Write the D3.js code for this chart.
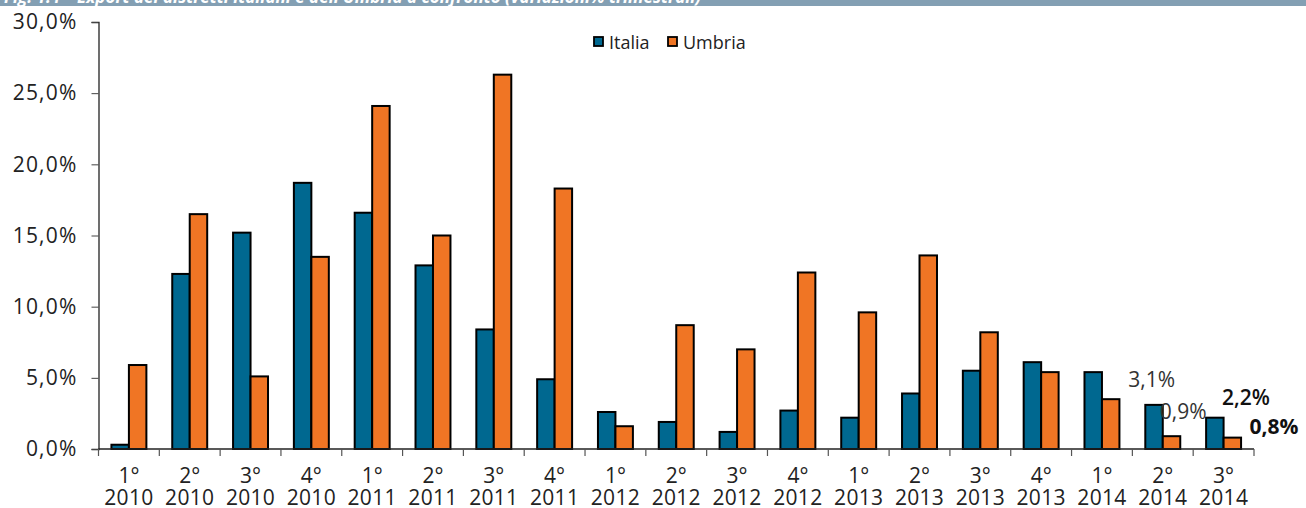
<!DOCTYPE html>
<html><head><meta charset="utf-8">
<script src="https://cdn.jsdelivr.net/npm/d3@7"></script>
<style>
html,body{margin:0;padding:0;background:#fff;}
svg{display:block;font-family:"Open Sans",sans-serif;}
</style></head>
<body>
<svg id="chart" width="1306" height="508"></svg>
<script>
const title = "Fig. 1.4 – Export dei distretti italiani e dell'Umbria a confronto (variazioni% trimestrali)";
const quarters = ["1°","2°","3°","4°","1°","2°","3°","4°","1°","2°","3°","4°","1°","2°","3°","4°","1°","2°","3°"];
const years = ["2010","2010","2010","2010","2011","2011","2011","2011","2012","2012","2012","2012","2013","2013","2013","2013","2014","2014","2014"];
const seriesNames = ["Italia","Umbria"];
const italia = [0.3,12.3,15.2,18.7,16.6,12.9,8.4,4.9,2.6,1.9,1.2,2.7,2.2,3.9,5.5,6.1,5.4,3.1,2.2];
const umbria = [5.9,16.5,5.1,13.5,24.1,15.0,26.3,18.3,1.6,8.7,7.0,12.4,9.6,13.6,8.2,5.4,3.5,0.9,0.8];
const yTicks = [0,5,10,15,20,25,30];
const labelTexts = ["3,1%","0,9%","2,2%","0,8%"];
const labelSeries = ["Italia","Umbria","Italia","Umbria"];
const labelCat = [17,17,18,18];
const colors = {Italia:"#006890", Umbria:"#F07524"};

const svg = d3.select("#chart");
const cats = quarters.map((q,i)=>i);
const data = cats.map(i=>({i, Italia:italia[i], Umbria:umbria[i]}));
const valueOf = (s,i)=> s==="Italia"?italia[i]:umbria[i];

const x0 = d3.scaleBand().domain(cats).range([98.5,1254]).paddingInner(0).paddingOuter(0);
const x1 = d3.scaleBand().domain(seriesNames).range([0,x0.bandwidth()]).paddingInner(0).paddingOuter(0.74);
const y = d3.scaleLinear().domain([0,30]).range([449,22]);

// title bar
svg.append("clipPath").attr("id","tclip").append("rect").attr("x",0).attr("y",0).attr("width",1306).attr("height",6);
svg.append("rect").attr("x",0).attr("y",0).attr("width",1306).attr("height",6).attr("fill","#839FB3");
svg.append("text").attr("clip-path","url(#tclip)").attr("x",4).attr("y",3)
  .attr("fill","#fff").attr("font-size",17).attr("font-weight",700).attr("font-style","italic").text(title);

// bars
const g = svg.append("g").selectAll("g").data(data).join("g")
  .attr("transform",d=>`translate(${x0(d.i)},0)`);
g.selectAll("rect").data(d=>seriesNames.map(s=>({s,v:d[s]}))).join("rect")
  .attr("x",d=>x1(d.s)).attr("width",x1.bandwidth())
  .attr("y",d=>y(d.v)).attr("height",d=>y(0)-y(d.v))
  .attr("fill",d=>colors[d.s]).attr("stroke","#000").attr("stroke-width",2);

// y axis
const yAxis = d3.axisLeft(y).tickValues(yTicks).tickSize(7).tickPadding(14)
  .tickFormat(d=>d3.format(".1f")(d).replace(".",",")+"%");
const ya = svg.append("g").attr("transform","translate(98.5,0)").call(yAxis);
ya.select(".domain").attr("stroke","#222").attr("stroke-width",1.3);
ya.selectAll(".tick line").attr("stroke","#444");
ya.selectAll(".tick text").attr("font-size",21).attr("fill","#222").attr("font-family","Open Sans")
  .attr("letter-spacing","1.2px");

// x axis
svg.append("line").attr("x1",98.5).attr("x2",1254).attr("y1",y(0)).attr("y2",y(0)).attr("stroke","#222").attr("stroke-width",1.3);
const tickXs = cats.map(i=>x0(i)).concat([x0(cats[cats.length-1])+x0.bandwidth()]);
svg.append("g").selectAll("line").data(tickXs).join("line")
  .attr("x1",d=>d).attr("x2",d=>d).attr("y1",y(0)).attr("y2",y(0)+7).attr("stroke","#555").attr("stroke-width",1.2);
const xg = svg.append("g").attr("font-size",21).attr("fill","#222").attr("text-anchor","middle");
xg.selectAll("text.q").data(cats).join("text").attr("class","q")
  .attr("x",i=>x0(i)+x0.bandwidth()/2).attr("y",483).text(i=>quarters[i]);
xg.selectAll("text.yr").data(cats).join("text").attr("class","yr")
  .attr("x",i=>x0(i)+x0.bandwidth()/2).attr("y",505).attr("letter-spacing","0.3px").text(i=>years[i]);

// legend
const leg = svg.append("g");
const legX = [594,668];
seriesNames.forEach((s,k)=>{
  leg.append("rect").attr("x",legX[k]).attr("y",37).attr("width",9).attr("height",9)
    .attr("fill",colors[s]).attr("stroke","#000").attr("stroke-width",1.8);
  leg.append("text").attr("x",legX[k]+15).attr("y",49).attr("font-size",18).attr("fill","#222").text(s);
});

// data labels (last quarters)
const labDx = [-17, -3, 16, 26];
const labDy = [-18, -17.5, -13, -4];
const labWeight = [400, 400, 600, 700];
const labFill = ["#333","#333","#111","#111"];
labelTexts.forEach((t,k)=>{
  const s = labelSeries[k], i = labelCat[k];
  const bx = x0(i)+x1(s);
  svg.append("text").attr("x", bx+labDx[k])
    .attr("y", y(valueOf(s,i))+labDy[k]).attr("font-size",21).attr("font-weight",labWeight[k])
    .attr("fill", labFill[k]).text(t);
});
</script>
</body></html>
